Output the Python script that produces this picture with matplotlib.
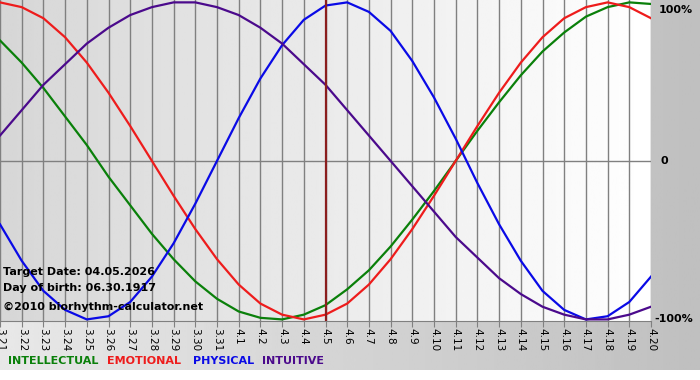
import matplotlib.pyplot as plt
import matplotlib.transforms as mtransforms
import numpy as np

# days shown on the x axis
dates = ["3.21", "3.22", "3.23", "3.24", "3.25", "3.26", "3.27", "3.28", "3.29", "3.30", "3.31",
         "4.1", "4.2", "4.3", "4.4", "4.5", "4.6", "4.7", "4.8", "4.9", "4.10",
         "4.11", "4.12", "4.13", "4.14", "4.15", "4.16", "4.17", "4.18", "4.19", "4.20"]

# cycle values (-1 .. 1), one per day
physical = [-0.40, -0.63, -0.82, -0.94, -1.00, -0.98, -0.89, -0.73, -0.52, -0.27,
            0.00, 0.27, 0.52, 0.73, 0.89, 0.98, 1.00, 0.94, 0.82, 0.63,
            0.40, 0.14, -0.14, -0.40, -0.63, -0.82, -0.94, -1.00, -0.98, -0.89, -0.73]
emotional = [1.00, 0.97, 0.90, 0.78, 0.62, 0.43, 0.22, 0.00, -0.22, -0.43,
             -0.62, -0.78, -0.90, -0.97, -1.00, -0.97, -0.90, -0.78, -0.62, -0.43,
             -0.22, 0.00, 0.22, 0.43, 0.62, 0.78, 0.90, 0.97, 1.00, 0.97, 0.90]
intellectual = [0.76, 0.62, 0.46, 0.28, 0.10, -0.10, -0.28, -0.46, -0.62, -0.76,
                -0.87, -0.95, -0.99, -1.00, -0.97, -0.91, -0.81, -0.69, -0.54, -0.37,
                -0.19, 0.00, 0.19, 0.37, 0.54, 0.69, 0.81, 0.91, 0.97, 1.00, 0.99]
intuitive = [0.16, 0.32, 0.48, 0.61, 0.74, 0.84, 0.92, 0.97, 1.00, 1.00,
             0.97, 0.92, 0.84, 0.74, 0.61, 0.48, 0.32, 0.16, 0.00, -0.16,
             -0.32, -0.48, -0.61, -0.74, -0.84, -0.92, -0.97, -1.00, -1.00, -0.97, -0.92]

target_day = "4.5"
target_text = "Target Date: 04.05.2026"
birth_text = "Day of birth: 06.30.1917"
credit_text = "\u00a92010 biorhythm-calculator.net"

series = [("INTELLECTUAL", intellectual, "#0a800a"),
          ("EMOTIONAL", emotional, "#ee1c1c"),
          ("PHYSICAL", physical, "#0a0ae6"),
          ("INTUITIVE", intuitive, "#4b0a8c")]

fig = plt.figure(figsize=(7, 3.8), dpi=100, facecolor="white")

# grey gradient behind everything (stops above a thin white strip)
bg = fig.add_axes([0, 0, 1, 1], zorder=0)
bg.imshow(np.linspace(0.91, 0.75, 256).reshape(1, -1), cmap="gray", vmin=0, vmax=1,
          aspect="auto", extent=[0, 1, 10 / 380, 1])
bg.set_xlim(0, 1)
bg.set_ylim(0, 1)
bg.axis("off")

ax = fig.add_axes([0, 1 - 321 / 380, 651 / 700, 321 / 380], zorder=1)
x = np.arange(len(dates))
ax.set_xlim(0, len(dates) - 1)
ax.set_ylim(-1.01, 1.015)

# plot area gradient: light grey on the left to white on the right
ax.imshow(np.linspace(0.84, 1.0, 256).reshape(1, -1), cmap="gray", vmin=0, vmax=1,
          aspect="auto", extent=[0, len(dates) - 1, -1.01, 1.015], zorder=0)

ax.set_xticks(x)
ax.set_xticklabels(dates)
ax.set_yticks([])
ax.grid(axis="x", color="#808080", linewidth=1, zorder=1)
ax.axhline(0, color="#808080", linewidth=1, zorder=1)
for side in ["top", "left", "right"]:
    ax.spines[side].set_visible(False)
ax.spines["bottom"].set_color("#808080")
ax.tick_params(axis="x", length=4, color="#808080", labelsize=7.5,
               labelrotation=-90, pad=1)

for name, vals, col in series:
    ax.plot(x, vals, color=col, linewidth=1.6, zorder=3)

ax.axvline(dates.index(target_day), color="#8b1e1e", linewidth=1.6, zorder=4)

# right-hand percent labels
trans = mtransforms.blended_transform_factory(ax.transAxes, ax.transData)
ax.text(1.012, 0.955, "100%", transform=trans, fontsize=8, fontweight="bold",
        va="center", ha="left", clip_on=False)
ax.text(1.014, 0, "0", transform=trans, fontsize=8, fontweight="bold",
        va="center", ha="left", clip_on=False)
ax.text(1.005, -1.0, "-100%", transform=trans, fontsize=8, fontweight="bold",
        va="center", ha="left", clip_on=False)

# info text in the lower left of the plot
fig.text(3 / 700, 1 - 272 / 380, target_text, fontsize=8, fontweight="bold", va="center", zorder=5)
fig.text(3 / 700, 1 - 288 / 380, birth_text, fontsize=8, fontweight="bold", va="center", zorder=5)
fig.text(3 / 700, 1 - 307 / 380, credit_text, fontsize=8, fontweight="bold", va="center", zorder=5)

# coloured legend words along the bottom
legend_x = [8, 107, 193, 262]
for (name, vals, col), lx in zip(series, legend_x):
    fig.text(lx / 700, 1 - 361 / 380, name, color=col, fontsize=8,
             fontweight="bold", va="center", zorder=5)

fig.savefig("out.png", dpi=100, facecolor=fig.get_facecolor())
